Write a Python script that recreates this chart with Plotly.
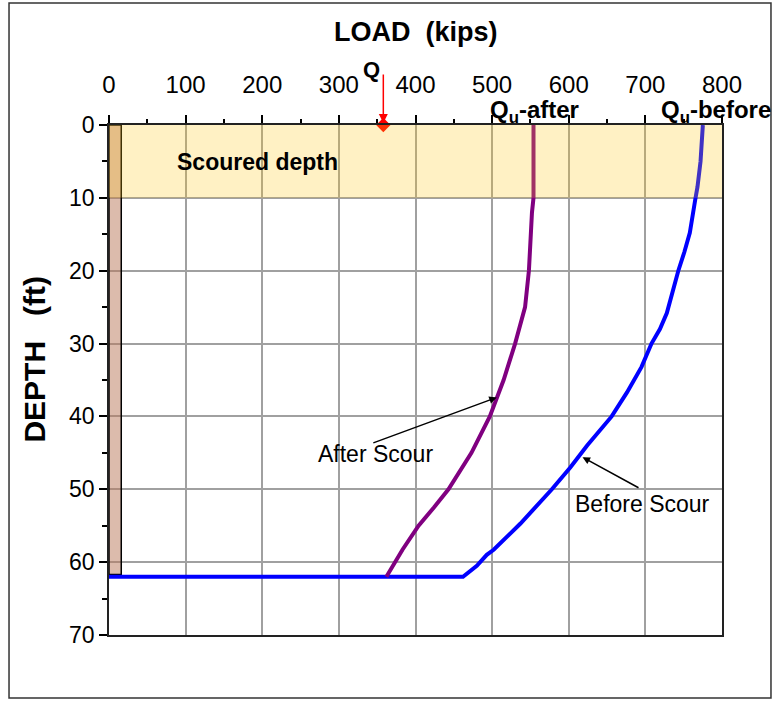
import plotly.graph_objects as go

# ---- data ----
after_load = [554, 554, 552, 550, 548, 543, 537, 530, 515, 497, 473, 443, 424, 404, 383, 362]
after_depth = [0, 10, 12, 17, 20, 25, 27.5, 30, 35, 40, 45, 50, 52.5, 55, 58.3, 62]

before_load = [0, 462, 480, 493, 502, 537, 578, 602, 624, 656, 676, 695, 708, 719, 728, 736, 743, 751, 758, 765, 768, 772, 775]
before_depth = [62, 62, 60.5, 59, 58.3, 54.7, 50, 47, 44, 40, 36.7, 33.2, 30, 28, 25.8, 22.6, 20, 17.4, 14.8, 10.3, 8.5, 5, 0]

q_load = [358]
q_depth = [0]

scour_depth = 10
pile_width = 16
pile_tip = 61.7

x_ticks = [0, 100, 200, 300, 400, 500, 600, 700, 800]
y_ticks = [0, 10, 20, 30, 40, 50, 60, 70]

FONT = "Arial, Liberation Sans, sans-serif"
NB = "\u00a0"

fig = go.Figure()

fig.add_trace(go.Scatter(x=before_load, y=before_depth, mode="lines",
                         line=dict(color="#0000FF", width=4), showlegend=False))
fig.add_trace(go.Scatter(x=after_load, y=after_depth, mode="lines",
                         line=dict(color="#800080", width=4), showlegend=False))
fig.add_trace(go.Scatter(x=q_load, y=q_depth, mode="markers",
                         marker=dict(symbol="diamond", color="#FF0000", size=11),
                         cliponaxis=False, showlegend=False))

shapes = [
    # pile
    dict(type="rect", xref="x", yref="y", x0=0, x1=pile_width, y0=0, y1=pile_tip,
         fillcolor="rgba(185,120,90,0.5)", line=dict(color="black", width=1.5), layer="between"),
    # scoured zone band
    dict(type="rect", xref="x", yref="y", x0=0, x1=800, y0=0, y1=scour_depth,
         fillcolor="rgba(255,200,20,0.25)", line=dict(width=0), layer="above"),
    # outer chart border
    dict(type="rect", xref="paper", yref="paper", x0=-0.1631, x1=1.0799, y0=-0.1235, y1=1.2392,
         line=dict(color="#333333", width=1.5), fillcolor="rgba(0,0,0,0)", layer="above"),
]

annotations = [
    dict(text=f"<b>LOAD{NB} (kips)</b>", xref="paper", yref="paper", x=0.5, y=1.182,
         xanchor="center", yanchor="middle",
         showarrow=False, font=dict(size=27, family=FONT, color="black")),
    dict(text=f"<b>DEPTH{NB}{NB} (ft)</b>", xref="paper", yref="paper", x=-0.1207, y=0.54,
         xanchor="center", yanchor="middle",
         textangle=-90, showarrow=False, font=dict(size=30, family=FONT, color="black")),
    dict(text="<b>Q</b>", xref="x", yref="paper", x=343, y=1.108, showarrow=False,
         xanchor="center", yanchor="middle",
         font=dict(size=22, family=FONT, color="black")),
    dict(text="", xref="x", yref="paper", x=q_load[0], y=1.004, ax=0, ay=-50,
         showarrow=True, arrowhead=2, arrowsize=1.2,
         arrowwidth=1.5, arrowcolor="#FF0000"),
    dict(text="<b>Q<sub>u</sub>-after</b>", xref="x", yref="paper", x=555, y=1.027, showarrow=False,
         xanchor="center", yanchor="middle",
         font=dict(size=24, family=FONT, color="black")),
    dict(text="<b>Q<sub>u</sub>-before</b>", xref="x", yref="paper", x=792, y=1.027, showarrow=False,
         xanchor="center", yanchor="middle",
         font=dict(size=24, family=FONT, color="black")),
    dict(text="<b>Scoured depth</b>", xref="x", yref="y", x=194, y=5.1, showarrow=False,
         font=dict(size=23, family=FONT, color="black")),
    dict(text="After Scour", xref="x", yref="y", x=348, y=45.2, showarrow=False,
         font=dict(size=23, family=FONT, color="black")),
    dict(text="", xref="x", yref="y", x=506, y=37.4, axref="x", ayref="y", ax=343, ay=43.7,
         showarrow=True, arrowhead=2, arrowsize=1, arrowwidth=1.5, arrowcolor="black"),
    dict(text="Before Scour", xref="x", yref="y", x=696, y=52, showarrow=False,
         font=dict(size=23, family=FONT, color="black")),
    dict(text="", xref="x", yref="y", x=618, y=45.6, axref="x", ayref="y", ax=693, ay=49.9,
         showarrow=True, arrowhead=2, arrowsize=1, arrowwidth=1.5, arrowcolor="black"),
]

fig.update_layout(
    width=774, height=701,
    margin=dict(l=109, r=52, t=125, b=66),
    paper_bgcolor="white", plot_bgcolor="white",
    font=dict(family=FONT, color="black"),
    shapes=shapes, annotations=annotations,
    xaxis=dict(side="top", range=[0, 800], tickvals=x_ticks, showgrid=True,
               gridcolor="#A0A0A0", gridwidth=1.5, zeroline=False,
               ticks="outside", ticklen=8, tickwidth=1.5, tickcolor="black",
               minor=dict(dtick=50, ticks="outside", ticklen=4, tickcolor="black", showgrid=False),
               showline=True, linecolor="#222222", linewidth=1.5, mirror=True,
               tickfont=dict(size=24, family=FONT, color="black"), ticklabelstandoff=13),
    yaxis=dict(range=[70, 0], tickvals=y_ticks, showgrid=True,
               gridcolor="#A0A0A0", gridwidth=1.5, zeroline=False,
               ticks="outside", ticklen=8, tickwidth=1.5, tickcolor="black",
               minor=dict(dtick=5, ticks="outside", ticklen=5, tickcolor="black", showgrid=False),
               showline=True, linecolor="#222222", linewidth=1.5, mirror=True,
               tickfont=dict(size=23, family=FONT, color="black")),
)

fig.write_html("out.html", config={"displayModeBar": False},
               post_script="document.body.style.margin='0px';")
